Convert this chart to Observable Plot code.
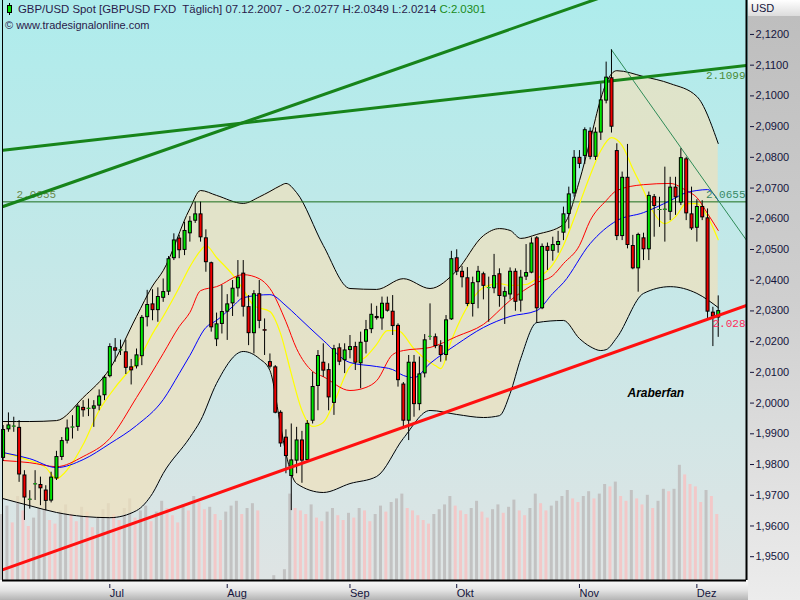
<!DOCTYPE html>
<html><head><meta charset="utf-8">
<script src="https://cdn.jsdelivr.net/npm/d3@7"></script>
<script src="https://cdn.jsdelivr.net/npm/@observablehq/plot@0.6"></script>
<style>
html,body{margin:0;padding:0;background:#fff;}
#wrap{position:relative;width:800px;height:600px;overflow:hidden;font-family:"Liberation Sans",Arial,sans-serif;}
.layer{position:absolute;left:0;top:0;}
#bg{position:absolute;left:0;top:0;width:748px;height:580px;background:linear-gradient(180deg,#aeecec 0%,#c4e8e8 45%,#dfe4e4 100%);}
#rpanel{position:absolute;left:748px;top:0;width:52px;height:600px;background:linear-gradient(180deg,#bdbdbd 0%,#cfcfcf 50%,#ececec 100%);}
#bpanel{position:absolute;left:0;top:580px;width:748px;height:20px;background:linear-gradient(180deg,#fafafa 0%,#e4e4e4 50%,#b4b4b4 100%);}
#usd{position:absolute;left:748px;top:0;width:52px;height:16px;background:linear-gradient(180deg,#ffffff,#dcdcdc);font-size:11px;color:#14143c;line-height:16px;padding-left:3px;box-sizing:border-box;}
#title{position:absolute;left:18px;top:3px;font-size:11.4px;color:#2a1a4a;white-space:pre;}
#title .c{color:#1a8a1a;}
#copy{position:absolute;left:5px;top:19px;font-size:11px;color:#2a1a4a;white-space:pre;}
#icon{position:absolute;left:5px;top:3px;}
</style></head>
<body>
<div id="wrap">
  <div id="bg"></div>
  <div id="rpanel"></div>
  <div id="bpanel"></div>
  <div id="usd">USD</div>
  <div class="layer" id="vol"></div>
  <div class="layer" id="main"></div>
  <svg id="icon" width="9" height="12"><line x1="4.5" y1="0" x2="4.5" y2="12" stroke="#000"/><rect x="2.5" y="2.5" width="4" height="7" fill="#00e000" stroke="#000"/></svg>
  <div id="title">GBP/USD Spot [GBPUSD FXD  Täglich] 07.12.2007 - O:2.0277 H:2.0349 L:2.0214 <span class="c">C:2.0301</span></div>
  <div id="copy">© www.tradesignalonline.com</div>
</div>
<script>
// ---------- data ----------
const monthLabels = ["Jul","Aug","Sep","Okt","Nov","Dez"];
const monthStartIdx = [20,42,65,85,108,130];
const priceTicks = [1.95,1.96,1.97,1.98,1.99,2.00,2.01,2.02,2.03,2.04,2.05,2.06,2.07,2.08,2.09,2.10,2.11,2.12];

const openP = [1.9820,1.9913,1.9922,1.9921,1.9766,1.9684,1.9734,1.9735,1.9717,1.9681,
1.9753,1.9823,1.9876,1.9919,1.9921,1.9986,1.9980,1.9980,1.9990,2.0024,
2.0086,2.0180,2.0170,2.0167,2.0118,2.0118,2.0151,2.0278,2.0323,2.0301,
2.0341,2.0361,2.0470,2.0537,2.0497,2.0551,2.0592,2.0616,2.0538,2.0457,
2.0206,2.0256,2.0296,2.0323,2.0372,2.0423,2.0314,2.0226,2.0356,2.0239,
2.0135,2.0118,1.9970,1.9889,1.9761,1.9811,1.9880,1.9813,1.9941,2.0054,
2.0133,2.0109,1.9999,2.0180,2.0138,2.0171,2.0184,2.0128,2.0198,2.0239,
2.0282,2.0274,2.0325,2.0299,2.0253,2.0062,1.9941,2.0133,1.9995,2.0095,
2.0215,2.0216,2.0187,2.0155,2.0271,2.0473,2.0429,2.0408,2.0321,2.0392,
2.0421,2.0373,2.0372,2.0421,2.0345,2.0352,2.0429,2.0332,2.0410,2.0423,
2.0538,2.0307,2.0510,2.0494,2.0513,2.0553,2.0614,2.0681,2.0800,2.0803,
2.0885,2.0800,2.0879,2.0983,2.1059,2.0822,2.0542,2.0735,2.0513,2.0437,
2.0538,2.0499,2.0672,2.0627,2.0628,2.0621,2.0703,2.0651,2.0795,2.0616,
2.0569,2.0640,2.0603,2.0296,2.0277];
const highP = [1.9927,1.9968,1.9954,1.9943,1.9780,1.9715,1.9780,1.9759,1.9731,1.9775,
1.9843,1.9888,1.9945,1.9959,1.9995,2.0008,2.0013,2.0008,2.0043,2.0089,
2.0193,2.0210,2.0205,2.0205,2.0142,2.0176,2.0285,2.0367,2.0369,2.0375,
2.0404,2.0477,2.0551,2.0546,2.0589,2.0607,2.0654,2.0654,2.0564,2.0459,
2.0293,2.0383,2.0353,2.0399,2.0464,2.0464,2.0350,2.0366,2.0399,2.0274,
2.0160,2.0122,1.9975,1.9913,1.9932,1.9921,1.9908,1.9943,2.0100,2.0171,
2.0193,2.0128,2.0188,2.0193,2.0193,2.0220,2.0198,2.0231,2.0269,2.0323,
2.0315,2.0345,2.0345,2.0350,2.0258,2.0067,2.0155,2.0155,2.0150,2.0223,
2.0323,2.0225,2.0203,2.0285,2.0494,2.0499,2.0445,2.0441,2.0410,2.0445,
2.0426,2.0410,2.0484,2.0437,2.0377,2.0440,2.0437,2.0432,2.0516,2.0538,
2.0542,2.0518,2.0521,2.0540,2.0559,2.0638,2.0703,2.0822,2.0822,2.0896,
2.0896,2.0896,2.1039,2.1110,2.1150,2.0844,2.0752,2.0842,2.0546,2.0553,
2.0553,2.0687,2.0679,2.0670,2.0768,2.0735,2.0735,2.0828,2.0800,2.0703,
2.0662,2.0659,2.0632,2.0312,2.0349];
const lowP = [1.9810,1.9905,1.9905,1.9742,1.9618,1.9655,1.9683,1.9666,1.9650,1.9675,
1.9748,1.9813,1.9867,1.9883,1.9908,1.9954,1.9956,1.9921,1.9975,2.0008,
2.0082,2.0133,2.0155,2.0093,2.0059,2.0111,2.0122,2.0248,2.0268,2.0263,
2.0328,2.0350,2.0464,2.0470,2.0480,2.0524,2.0585,2.0524,2.0426,2.0231,
2.0184,2.0225,2.0204,2.0282,2.0345,2.0280,2.0187,2.0160,2.0242,2.0155,
2.0111,1.9965,1.9856,1.9770,1.9650,1.9770,1.9739,1.9808,1.9932,1.9975,
2.0084,1.9975,1.9960,2.0122,2.0096,2.0144,2.0106,2.0047,2.0160,2.0226,
2.0270,2.0237,2.0296,2.0220,2.0052,1.9915,1.9878,1.9954,1.9975,2.0082,
2.0204,2.0177,2.0133,2.0137,2.0269,2.0415,2.0375,2.0314,2.0280,2.0307,
2.0336,2.0263,2.0356,2.0312,2.0256,2.0336,2.0299,2.0296,2.0399,2.0421,
2.0260,2.0304,2.0432,2.0462,2.0488,2.0529,2.0567,2.0670,2.0763,2.0777,
2.0792,2.0790,2.0855,2.0974,2.0879,2.0529,2.0529,2.0502,2.0434,2.0361,
2.0464,2.0464,2.0540,2.0572,2.0524,2.0594,2.0611,2.0643,2.0594,2.0562,
2.0524,2.0594,2.0274,2.0184,2.0214];
const closeP = [1.9914,1.9929,1.9925,1.9766,1.9691,1.9687,1.9737,1.9721,1.9680,1.9759,
1.9826,1.9878,1.9919,1.9922,1.9990,1.9975,1.9983,1.9991,2.0023,2.0084,
2.0184,2.0169,2.0173,2.0113,2.0105,2.0157,2.0279,2.0321,2.0301,2.0347,
2.0363,2.0470,2.0531,2.0496,2.0562,2.0592,2.0616,2.0538,2.0457,2.0245,
2.0258,2.0298,2.0323,2.0374,2.0410,2.0312,2.0226,2.0356,2.0266,2.0234,
2.0117,1.9967,1.9867,1.9826,1.9815,1.9880,1.9811,1.9934,2.0054,2.0155,
2.0104,2.0017,2.0177,2.0133,2.0173,2.0184,2.0130,2.0198,2.0239,2.0289,
2.0275,2.0325,2.0299,2.0249,2.0073,1.9941,2.0133,1.9995,2.0095,2.0206,
2.0217,2.0184,2.0155,2.0271,2.0470,2.0426,2.0408,2.0321,2.0392,2.0429,
2.0380,2.0375,2.0415,2.0347,2.0363,2.0429,2.0328,2.0410,2.0425,2.0521,
2.0307,2.0510,2.0494,2.0516,2.0526,2.0616,2.0681,2.0800,2.0777,2.0890,
2.0800,2.0882,2.0987,2.1061,2.0898,2.0542,2.0735,2.0513,2.0437,2.0549,
2.0499,2.0676,2.0640,2.0630,2.0631,2.0703,2.0668,2.0799,2.0616,2.0567,
2.0640,2.0603,2.0296,2.0280,2.0301];
const volume = [55,62,48,70,58,45,52,60,66,50,47,58,63,55,49,61,57,44,53,59,
64,55,50,60,68,52,58,62,49,57,66,60,54,48,63,58,70,65,59,61,55,50,
57,62,66,55,60,64,58,0,0,4,0,9,72,60,58,55,63,52,49,57,60,54,50,
56,52,60,58,49,55,62,57,65,68,72,60,58,54,50,47,55,59,63,70,
62,58,55,60,66,57,52,59,63,56,61,67,58,54,60,72,64,58,62,66,70,75,68,
65,70,74,68,72,80,78,82,70,66,75,68,63,71,60,66,76,74,76,96,88,80,
78,65,75,70,55];

// Bollinger bands
const bandIdx   = [0,5,10,15,20,25,28,30,35,37,40,45,48,50,52,53,55,60,65,70,75,80,85,90,93,95,97,100,105,108,110,112,113,115,120,125,130,134];
const bandUpper = [1.9940,1.9940,1.9943,2.0018,2.0112,2.0282,2.0381,2.0431,2.0633,2.0692,2.0676,2.0650,2.0671,2.0689,2.0708,2.0715,2.0685,2.0513,2.0373,2.0370,2.0405,2.0373,2.0431,2.0545,2.0568,2.0562,2.0536,2.0549,2.0581,2.0724,2.0855,2.0991,2.1041,2.1082,2.1063,2.1040,2.0998,2.0845];
const bandLower = [1.9689,1.9666,1.9644,1.9631,1.9627,1.9650,1.9706,1.9771,1.9888,1.9943,2.0064,2.0168,2.0145,2.0106,1.9926,1.9836,1.9738,1.9709,1.9738,1.9761,1.9885,1.9976,1.9963,1.9953,1.9959,2.0031,2.0145,2.0262,2.0269,2.0210,2.0184,2.0171,2.0174,2.0213,2.0357,2.0379,2.0357,2.0311];

// Moving averages
const yellowIdx = [0,5,8,10,11,13,15,18,20,23,25,28,30,33,35,37,38,40,43,45,47,50,52,54,56,58,60,62,65,68,70,72,74,77,79,81,82,84,86,88,90,93,95,98,100,103,105,107,110,112,114,116,118,120,122,124,126,128,130,132,134];
const yellowVal = [1.9839,1.9813,1.9790,1.9754,1.9764,1.9806,1.9865,1.9976,2.0028,2.0093,2.0129,2.0226,2.0282,2.0376,2.0444,2.0496,2.0513,2.0474,2.0418,2.0370,2.0317,2.0298,2.0226,2.0096,1.9976,1.9924,1.9937,2.0002,2.0119,2.0151,2.0191,2.0236,2.0236,2.0177,2.0145,2.0122,2.0112,2.0204,2.0282,2.0340,2.0376,2.0389,2.0383,2.0386,2.0405,2.0451,2.0513,2.0601,2.0741,2.0822,2.0864,2.0838,2.0763,2.0692,2.0617,2.0584,2.0607,2.0649,2.0649,2.0607,2.0532];
const redIdx = [0,5,10,15,20,25,30,33,35,37,40,45,48,50,53,55,58,60,65,68,70,73,75,80,85,90,95,100,103,105,108,110,113,115,120,125,128,130,132,134];
const redVal = [1.9813,1.9806,1.9793,1.9826,1.9885,2.0018,2.0161,2.0249,2.0295,2.0366,2.0379,2.0418,2.0405,2.0373,2.0265,2.0177,2.0103,2.0086,2.0041,2.0051,2.0073,2.0158,2.0171,2.0181,2.0217,2.0256,2.0334,2.0392,2.0415,2.0454,2.0513,2.0594,2.0659,2.0692,2.0711,2.0715,2.0692,2.0669,2.0617,2.0562];
const blueIdx = [0,5,10,15,20,25,30,33,35,38,40,43,45,50,53,55,60,65,70,73,75,77,80,85,90,95,100,103,105,110,115,120,125,128,130,132,134];
const blueVal = [1.9839,1.9819,1.9790,1.9816,1.9868,1.9927,2.0011,2.0096,2.0155,2.0246,2.0269,2.0314,2.0343,2.0353,2.0317,2.0285,2.0204,2.0132,2.0119,2.0109,2.0090,2.0083,2.0129,2.0191,2.0246,2.0282,2.0301,2.0357,2.0392,2.0519,2.0594,2.0620,2.0659,2.0685,2.0692,2.0695,2.0659];

// Drawn trend lines and levels
const steepIdx = [0,112],     steepVal = [2.0640,2.1320];
const flatIdx = [0,139.3],    flatVal = [2.0823,2.1099];
const thinIdx = [114,139.3],  thinVal = [2.1150,2.0530];
const supportIdx = [0,139.3], supportVal = [1.9458,2.0318];
const levelValue = 2.0655;
const labelFlat = {text:"2.1099", value:2.1099};
const labelLevel = {text:"2.0655", value:2.0655};
const labelSupport = {text:"2.028", value:2.028};
const notes = [{text:"Araberfan", i:117, price:2.0021}];

// ---------- build ----------
const candles = openP.map((o,i)=>({i, o, h:highP[i], l:lowP[i], c:closeP[i], up: closeP[i] >= o}));
const zipLine = (idx, val) => idx.map((i,k)=>({i, v: val[k]}));
const band = bandIdx.map((i,k)=>({i, hi: bandUpper[k], lo: bandLower[k]}));
// volume bar colour: grey when volume rose versus the previous bar, pink when it fell
const volData = volume.map((v,i)=>({i, v, rising: i === 0 || v >= volume[i-1]})).filter(d=>d.v > 0);

const xDomain = [-0.11, 139.3];
const base = {width:800, height:600, marginLeft:2, marginRight:54, marginTop:0, marginBottom:20,
  style:{background:"transparent", fontFamily:"'Liberation Sans', Arial, sans-serif"}};

const volPlot = Plot.plot({...base,
  x:{domain:xDomain, axis:null},
  y:{domain:[0,100], range:[580,460], axis:null},
  marks:[
    Plot.ruleX(volData, {x:"i", y1:0, y2:"v", dx:-1.5, stroke:d=>d.rising?"#c2c2c2":"#f2c8c8", strokeWidth:3})
  ]});
document.getElementById("vol").appendChild(volPlot);

const lblFont = {fontSize:11, fontFamily:"'Liberation Mono', 'DejaVu Sans Mono', monospace"};
const body = d => Math.max(d.o,d.c), bodyLo = d => Math.min(d.o,d.c);
const mainPlot = Plot.plot({...base,
  x:{domain:xDomain, axis:null},
  y:{domain:[1.94225,2.13105], axis:null},
  marks:[
    Plot.areaY(band, {x:"i", y1:"lo", y2:"hi", fill:"#eee0bc", fillOpacity:0.72, curve:"monotone-x"}),
    Plot.line(band, {x:"i", y:"hi", stroke:"#000", strokeWidth:1, curve:"monotone-x"}),
    Plot.line(band, {x:"i", y:"lo", stroke:"#000", strokeWidth:1, curve:"monotone-x"}),
    Plot.ruleY([levelValue], {stroke:"#1c6e1c", strokeWidth:1}),
    Plot.text([labelLevel], {frameAnchor:"left", y:"value", text:"text", dx:14, dy:-7, textAnchor:"start", fill:"#6a8a4a", ...lblFont}),
    Plot.line(zipLine(yellowIdx,yellowVal), {x:"i", y:"v", stroke:"#ffff00", strokeWidth:1.2, curve:"monotone-x"}),
    Plot.line(zipLine(redIdx,redVal), {x:"i", y:"v", stroke:"#ff0000", strokeWidth:1, curve:"monotone-x"}),
    Plot.line(zipLine(blueIdx,blueVal), {x:"i", y:"v", stroke:"#0000ff", strokeWidth:1, curve:"monotone-x"}),
    Plot.line(zipLine(thinIdx,thinVal), {x:"i", y:"v", stroke:"#2e8b57", strokeWidth:1, clip:true}),
    Plot.line(zipLine(steepIdx,steepVal), {x:"i", y:"v", stroke:"#17841a", strokeWidth:3, clip:true}),
    Plot.line(zipLine(flatIdx,flatVal), {x:"i", y:"v", stroke:"#17841a", strokeWidth:3, clip:true}),
    // candles
    Plot.ruleX(candles, {x:"i", y1:"h", y2:"l", stroke:"#000", strokeWidth:1}),
    Plot.ruleX(candles, {x:"i", y1:body, y2:bodyLo, stroke:"#000", strokeWidth:4}),
    Plot.ruleX(candles.filter(d=>d.up), {x:"i", y1:body, y2:bodyLo, stroke:"#00e600", strokeWidth:2, insetTop:1, insetBottom:1}),
    Plot.ruleX(candles.filter(d=>!d.up), {x:"i", y1:body, y2:bodyLo, stroke:"#f00000", strokeWidth:2, insetTop:1, insetBottom:1}),
    Plot.line(zipLine(supportIdx,supportVal), {x:"i", y:"v", stroke:"#ff1010", strokeWidth:3, clip:true}),
    Plot.text([labelFlat], {frameAnchor:"right", y:"value", text:"text", dx:-1, dy:10, textAnchor:"end", fill:"#4a8a36", ...lblFont}),
    Plot.text([labelLevel], {frameAnchor:"right", y:"value", text:"text", dx:-1, dy:-7, textAnchor:"end", fill:"#3a8a66", ...lblFont}),
    Plot.text([labelSupport], {frameAnchor:"right", y:"value", text:"text", dx:-1, dy:6, textAnchor:"end", fill:"#ff2a5a", ...lblFont}),
    Plot.text(notes, {x:"i", y:"price", text:"text", textAnchor:"start", lineAnchor:"bottom", fontSize:12, fontStyle:"italic", fontWeight:"bold", fill:"#000"}),
    // frame borders
    Plot.ruleX([xDomain[0]], {stroke:"#000", strokeWidth:1}),
    Plot.ruleX([xDomain[1]], {stroke:"#000", strokeWidth:2}),
    Plot.ruleY([1.94225], {stroke:"#000", strokeWidth:2}),
    // axes
    Plot.axisY(priceTicks, {anchor:"right", label:null, tickSize:4, tickPadding:2, dx:3, tickFormat:d=>d.toFixed(4).replace(".",","), fontSize:11, color:"#14143c"}),
    Plot.axisX(monthStartIdx, {anchor:"bottom", label:null, tickSize:4, tickPadding:1, dy:4, textAnchor:"start", tickFormat:d=>monthLabels[monthStartIdx.indexOf(d)], fontSize:11, color:"#14143c"})
  ]});
document.getElementById("main").appendChild(mainPlot);
</script>
</body></html>
